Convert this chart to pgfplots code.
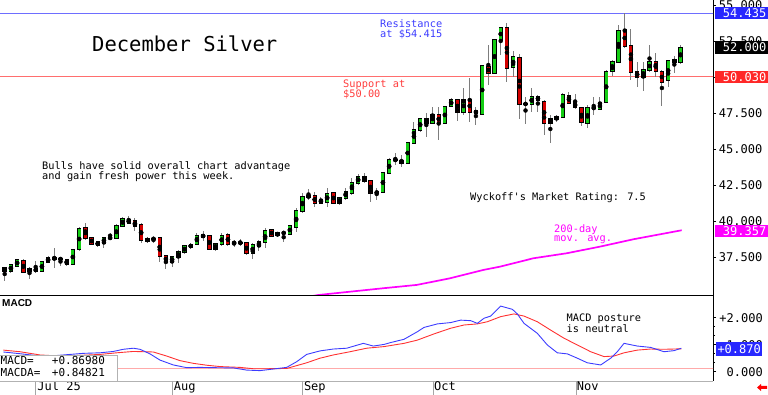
\documentclass[border=0pt]{standalone}
\usepackage{pgfplots}
\pgfplotsset{compat=1.18}
\usepackage{pgfplotstable}
\usepackage{fontspec}
\setmainfont{DejaVu Sans Mono}
\newfontfamily\lsans{Liberation Sans}
\definecolor{cg}{RGB}{20,205,20}
\definecolor{cr}{RGB}{210,0,0}
\definecolor{wick}{RGB}{125,125,125}
\definecolor{resl}{RGB}{110,110,255}
\definecolor{rest}{RGB}{60,60,255}
\definecolor{supl}{RGB}{255,110,110}
\definecolor{supt}{RGB}{255,60,60}
\definecolor{mag}{RGB}{255,0,255}
\definecolor{bbox}{RGB}{40,40,255}
\definecolor{rbox}{RGB}{255,40,40}
\definecolor{macdb}{RGB}{60,60,255}
\definecolor{macdr}{RGB}{255,50,50}
\definecolor{zline}{RGB}{255,170,170}
\def\ann{\fontsize{10.3}{12}\selectfont}
\def\tkf{\fontsize{12}{12}\selectfont}

\pgfplotstableread{
i o h l c
-4 36.527 37.014 36.389 36.944
-3 36.875 37.361 36.805 37.291
-1 36.527 36.805 35.972 36.666
1 36.527 37.222 36.458 37.153
2 37.153 37.569 37.083 37.430
6 37.014 38.055 36.944 37.986
7 38.055 39.583 37.916 39.444
10 38.333 38.611 38.194 38.541
11 38.472 38.889 38.125 38.819
13 38.819 39.791 38.750 39.653
14 39.653 40.278 39.583 40.139
18 38.611 38.889 38.472 38.750
19 38.740 38.889 38.472 38.780
22 37.153 37.569 36.805 37.500
23 37.500 37.986 37.083 37.847
24 37.847 38.333 37.708 38.264
25 38.194 38.472 38.055 38.333
26 38.403 39.166 38.333 38.958
29 38.055 38.472 37.916 38.403
30 38.403 39.166 38.264 38.958
33 38.470 38.750 38.264 38.500
35 37.778 38.472 37.361 38.333
36 38.264 38.680 37.916 38.541
37 38.541 39.514 38.125 39.305
39 39.027 39.236 38.889 39.166
41 39.097 39.722 39.027 39.653
42 39.583 40.903 39.236 40.694
43 40.694 41.944 40.555 41.666
44 41.666 42.222 41.458 41.736
46 41.250 41.666 41.180 41.458
47 41.319 42.291 40.972 41.875
49 41.250 41.666 41.111 41.597
50 41.597 42.291 41.458 42.014
51 41.944 42.986 41.805 42.639
52 42.639 43.264 42.500 43.055
55 41.944 42.291 41.458 42.014
56 42.014 43.400 41.944 43.333
57 43.333 44.375 43.264 44.236
60 44.027 45.486 43.958 45.416
61 45.416 46.875 45.350 46.319
62 46.319 47.153 46.180 47.083
64 46.805 47.916 46.736 47.361
66 46.805 47.986 46.750 47.916
67 47.986 48.541 47.916 48.403
69 47.569 49.236 47.361 48.403
72 47.430 50.833 47.361 50.764
74 50.278 52.639 50.200 52.569
75 52.569 53.472 51.528 53.403
77 50.694 51.805 50.000 51.389
79 48.110 48.611 46.736 48.150
80 48.125 49.236 47.569 48.611
83 46.805 47.361 45.416 47.083
84 47.083 47.361 46.875 47.222
85 47.222 48.889 47.200 48.750
89 46.805 48.055 46.458 47.847
91 47.778 48.611 47.708 48.194
92 48.264 50.486 48.194 50.347
93 50.416 51.180 50.069 51.041
94 51.041 53.611 50.972 53.194
98 50.000 51.041 49.027 50.486
99 50.486 52.222 50.347 51.041
102 49.791 51.180 49.305 51.111
104 51.041 52.222 50.903 52.000
}\up

\pgfplotstableread{
i o h l c
-5 36.736 36.805 35.833 36.527
-2 37.222 37.361 36.389 36.458
0 36.666 37.222 36.389 36.527
3 37.430 38.125 36.736 37.361
4 37.380 37.500 36.875 37.340
5 37.291 37.320 36.875 37.014
8 39.514 39.861 38.680 38.819
9 38.819 38.889 38.333 38.403
12 38.840 39.166 38.790 38.800
15 40.069 40.347 39.791 39.861
16 40.000 40.208 39.305 39.653
17 39.722 39.861 38.472 38.680
20 38.819 38.889 37.153 37.569
21 37.569 37.639 36.666 37.153
27 39.027 39.305 38.611 38.889
28 38.958 39.027 37.986 38.055
31 39.027 39.166 38.264 38.403
32 38.500 38.680 38.194 38.460
34 38.472 38.541 37.639 37.778
38 39.375 39.444 38.889 38.958
40 39.190 39.210 38.541 39.150
45 41.736 42.014 40.972 41.250
48 41.944 42.000 41.180 41.250
53 43.055 43.333 42.639 42.778
54 42.778 42.847 41.319 41.944
58 44.250 44.722 43.889 44.220
59 44.166 44.583 43.750 44.027
63 47.083 47.500 45.833 46.805
65 47.361 47.916 45.625 46.805
68 48.403 48.472 46.944 47.569
70 48.403 49.930 46.875 47.569
71 47.639 47.916 46.666 47.500
73 50.694 52.222 49.444 50.278
76 53.403 53.750 49.652 50.625
78 51.319 51.597 47.083 48.125
81 48.611 48.750 47.569 48.403
82 48.264 48.403 45.972 46.805
86 48.680 48.958 48.125 48.194
87 48.194 48.819 47.778 47.916
88 47.847 47.916 46.597 46.875
90 47.860 48.611 47.361 47.830
95 53.264 54.435 52.014 52.153
96 52.153 53.333 49.791 50.347
97 50.347 51.041 49.305 50.000
100 51.041 51.667 50.000 50.416
101 50.347 50.486 47.986 49.652
103 51.180 51.458 50.278 51.041
}\dn

\pgfplotsset{
  wickstyle/.style={forget plot, only marks, mark=none,
    error bars/.cd, y dir=both, y explicit, error mark=none,
    error bar style={line width=1pt, color=wick}},
  bodyborder/.style={forget plot, only marks, mark=none,
    error bars/.cd, y dir=both, y explicit, error mark=none,
    error bar style={line width=4.4pt, color=black}},
  bodyfill/.style={forget plot, only marks, mark=none,
    error bars/.cd, y dir=both, y explicit, error mark=none,
    error bar style={line width=3pt, color=#1}},
}

\begin{document}
\begin{tikzpicture}[x=1pt,y=1pt]
\path[use as bounding box] (0,0) rectangle (768,395);
\begin{axis}[
  at={(0pt,100pt)}, anchor=south west, scale only axis,
  width=713pt, height=295pt,
  xmin=-5.758, xmax=109.24, ymin=34.861, ymax=55.347,
  axis x line*=bottom, axis y line*=right,
  axis line style={black, line width=0.8pt},
  xtick=\empty,
  ytick={37.5,40,42.5,45,47.5,50,52.5,55},
  yticklabels={37.500,40.000,42.500,45.000,47.500,50.000,52.500,55.000},
  yticklabel style={font=\tkf, anchor=west, inner sep=0pt, xshift=2.7pt},
  tick align=outside, major tick length=3pt,
  ytick style={black, line width=0.5pt},
  clip=true,
]
% resistance / support
\addplot[resl, line width=0.9pt, forget plot] coordinates {(-6,54.435) (110,54.435)};
\addplot[supl, line width=0.9pt, forget plot] coordinates {(-6,50.03) (110,50.03)};
% 200-day moving average
\addplot[mag, line width=1.7pt] coordinates {
(44.5,34.78) (45.58,34.86) (50.69,35.09) (56.06,35.33) (61.45,35.56) (66.82,36.02)
(72.19,36.60) (74.89,36.83) (80.26,37.41) (85.65,37.76) (91.02,38.22) (96.39,38.73) (104.19,39.357)};
% wicks
\addplot[wickstyle] table[x=i, y expr=(\thisrow{h}+\thisrow{l})/2, y error expr=(\thisrow{h}-\thisrow{l})/2] {\up};
\addplot[wickstyle] table[x=i, y expr=(\thisrow{h}+\thisrow{l})/2, y error expr=(\thisrow{h}-\thisrow{l})/2] {\dn};
% bodies
\addplot[bodyborder] table[x=i, y expr=(\thisrow{o}+\thisrow{c})/2, y error expr=abs(\thisrow{o}-\thisrow{c})/2+0.05] {\up};
\addplot[bodyborder] table[x=i, y expr=(\thisrow{o}+\thisrow{c})/2, y error expr=abs(\thisrow{o}-\thisrow{c})/2+0.05] {\dn};
\addplot[bodyfill=cg] table[x=i, y expr=(\thisrow{o}+\thisrow{c})/2, y error expr=abs(\thisrow{o}-\thisrow{c})/2] {\up};
\addplot[bodyfill=cr] table[x=i, y expr=(\thisrow{o}+\thisrow{c})/2, y error expr=abs(\thisrow{o}-\thisrow{c})/2] {\dn};
\end{axis}

\begin{axis}[
  at={(0pt,14pt)}, anchor=south west, scale only axis,
  width=713pt, height=86pt,
  xmin=-5.758, xmax=109.24, ymin=-0.344, ymax=2.841,
  axis x line*=bottom, axis y line*=right,
  x axis line style={gray!60, line width=0.8pt},
  y axis line style={black, line width=0.8pt},
  xtick={0,22,43,64,87},
  xticklabels={Jul 25,Aug,Sep,Oct,Nov},
  xticklabel style={font=\tkf, anchor=north west, inner sep=0pt, xshift=1.5pt, yshift=2.5pt},
  xtick style={draw=none},
  ytick={0,1,2},
  yticklabels={0.000,+1.000,+2.000},
  yticklabel style={font=\tkf, anchor=east, inner sep=0pt, xshift=47pt},
  minor y tick num=2,
  tick align=outside, major tick length=3pt, minor tick length=2pt,
  ytick style={black, line width=0.5pt},
  clip=true,
]
\addplot[zline, line width=0.6pt, forget plot] coordinates {(-6,0.12) (110,0.12)};
\addplot[macdr, line width=0.9pt] coordinates {
(-5.22,0.80) (-2.53,0.74) (0.69,0.62) (3.92,0.58) (7.68,0.61) (10.37,0.64) (13.06,0.70)
(15.75,0.75) (18.97,0.73) (21.12,0.58) (23.27,0.41) (25.42,0.31) (27.58,0.24) (29.73,0.19)
(32.95,0.16) (35.1,0.11) (37.25,0.11) (40.48,0.12) (41.55,0.19) (43.7,0.33) (45.85,0.50)
(48.0,0.62) (50.7,0.74) (53.38,0.87) (56.18,0.93) (59.4,1.05) (61.55,1.17) (64.24,1.40)
(66.93,1.61) (69.08,1.73) (71.23,1.77) (72.84,1.85) (75.0,2.04) (77.15,2.14) (78.76,2.06)
(80.91,1.85) (83.06,1.54) (85.21,1.24) (87.36,0.99) (89.51,0.74) (91.66,0.56) (93.27,0.58)
(94.89,0.70) (97.04,0.80) (99.19,0.84) (101.34,0.83) (104.13,0.848)};
\addplot[macdb, line width=0.9pt] coordinates {
(-5.22,0.73) (-3.07,0.68) (-0.38,0.61) (1.23,0.56) (3.92,0.61) (7.68,0.68) (10.37,0.70)
(12.52,0.75) (14.13,0.83) (15.75,0.87) (16.82,0.83) (18.44,0.66) (20.05,0.43) (22.2,0.25)
(24.35,0.15) (26.5,0.16) (28.65,0.15) (31.88,0.14) (34.03,0.06) (36.18,0.04) (38.33,0.10)
(40.48,0.16) (42.09,0.37) (43.7,0.64) (45.85,0.77) (48.0,0.84) (50.16,0.87) (52.84,1.05)
(54.46,0.95) (56.18,1.01) (57.25,1.08) (59.4,1.20) (61.55,1.48) (62.63,1.64) (64.78,1.77)
(66.93,1.82) (68.54,1.91) (70.16,1.89) (71.23,1.79) (72.31,1.98) (73.38,2.06) (75.0,2.43)
(76.88,2.31) (77.68,2.14) (78.76,1.79) (80.91,1.42) (82.52,0.99) (84.13,0.70) (85.75,0.66)
(87.36,0.50) (88.97,0.33) (91.12,0.25) (92.74,0.50) (93.81,0.74) (94.89,1.05) (97.04,0.95)
(99.19,0.90) (101.34,0.74) (102.95,0.78) (104.13,0.870)};
\end{axis}

% month tick lines
\foreach \xx in {35.7,172.3,302.3,433.3,576.3} {\draw[gray!70, line width=0.6pt] (\xx,14) -- (\xx,0);}

% MACD value box
\draw[gray!60, fill=white, line width=0.6pt] (-1,14) rectangle (117,40);
\node[anchor=base west, inner sep=0pt, font=\fontsize{11}{11}\selectfont] at (0.5,30) {MACD=};
\node[anchor=base west, inner sep=0pt, font=\fontsize{11}{11}\selectfont] at (51.7,30) {+0.86980};
\node[anchor=base west, inner sep=0pt, font=\fontsize{11}{11}\selectfont] at (0.5,18) {MACDA=};
\node[anchor=base west, inner sep=0pt, font=\fontsize{11}{11}\selectfont] at (51.7,18) {+0.84821};
\node[anchor=base west, inner sep=0pt] at (2,88) {\lsans\bfseries\fontsize{10}{10}\selectfont MACD};

% annotations
\node[anchor=base west, inner sep=0pt, font=\fontsize{20.5}{20.5}\selectfont] at (92,343) {December Silver};
\node[anchor=base west, inner sep=0pt, font=\ann, text=rest] at (380,367) {Resistance};
\node[anchor=base west, inner sep=0pt, font=\ann, text=rest] at (380,357) {at \$54.415};
\node[anchor=base west, inner sep=0pt, font=\ann, text=supt] at (343,307) {Support at};
\node[anchor=base west, inner sep=0pt, font=\ann, text=supt] at (343,297) {\$50.00};
\node[anchor=base west, inner sep=0pt, font=\ann] at (42,225.5) {Bulls have solid overall chart advantage};
\node[anchor=base west, inner sep=0pt, font=\ann] at (42,215) {and gain fresh power this week.};
\node[anchor=base west, inner sep=0pt, font=\ann] at (470,194.5) {Wyckoff\textquotesingle s Market Rating: 7.5};
\node[anchor=base west, inner sep=0pt, font=\ann, text=mag] at (554,162.5) {200-day};
\node[anchor=base west, inner sep=0pt, font=\ann, text=mag] at (554,153.5) {mov. avg.};
\node[anchor=base west, inner sep=0pt, font=\ann] at (566.5,73.5) {MACD posture};
\node[anchor=base west, inner sep=0pt, font=\ann] at (566.5,62.5) {is neutral};

% right value boxes
\fill[bbox] (715,376) rectangle (768,388);
\node[anchor=west, inner sep=0pt, text=white, font=\tkf] at (722.7,382) {54.435};
\fill[black] (715,341) rectangle (768,354);
\node[anchor=west, inner sep=0pt, text=white, font=\tkf] at (722.7,347.5) {52.000};
\fill[rbox] (715,312) rectangle (768,324);
\node[anchor=west, inner sep=0pt, text=white, font=\tkf] at (722.7,318) {50.030};
\fill[mag] (715,158) rectangle (768,170);
\node[anchor=west, inner sep=0pt, text=white, font=\tkf] at (722.7,164) {39.357};
\fill[bbox] (716,39) rectangle (762,53);
\node[anchor=west, inner sep=0pt, text=white, font=\tkf] at (717.3,46) {+0.870};

% red arrow
\fill[red] (757,7.5) -- (761,11) -- (761,9) -- (767,9) -- (767,6) -- (761,6) -- (761,4) -- cycle;
\end{tikzpicture}
\end{document}
